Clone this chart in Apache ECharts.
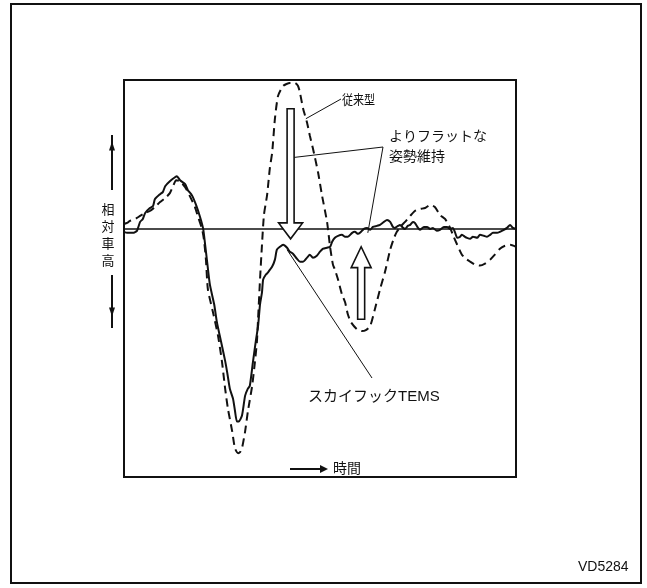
<!DOCTYPE html>
<html>
<head>
<meta charset="utf-8">
<script src="https://cdn.jsdelivr.net/npm/echarts@6/dist/echarts.min.js"></script>
<style>
html, body { margin: 0; padding: 0; background: #fff; }
#chart { width: 647px; height: 588px; }
</style>
</head>
<body>
<div id="chart"></div>
<script>
// Relative body height over time: conventional suspension (dashed)
const conventional = [
  [0,0.5],[0.8,0.6],[1.5,0.8],[2.3,0.9],[3.3,1.1],[4.1,1.3],[5.4,1.6],[6.6,1.8],[7.9,2.2],
  [9.2,2.7],[10.5,3.1],[11.7,3.6],[12.5,4.3],[13.3,4.9],[14.3,4.8],[15.6,4.2],[16.8,3.3],
  [18.1,2.2],[18.9,1.2],[19.9,0],[20.4,-1.1],[20.9,-3.1],[21.4,-6.1],[22.7,-8.4],[24.0,-10.8],
  [25.0,-13.4],[25.8,-16.1],[26.5,-18.1],[27.6,-20.4],[28.3,-22.1],[29.1,-22.6],[29.6,-22.5],
  [30.1,-22.1],[30.9,-20.4],[31.6,-18.4],[32.7,-15.8],[33.4,-13.4],[33.9,-11.4],[34.2,-9.1],
  [34.7,-5.1],[35.2,-1.6],[35.7,1.4],[36.5,3.4],[37.2,6.1],[37.8,7.7],[38.5,11.1],[39.3,13.4],
  [40.6,14.4],[42.3,14.7],[43.6,14.7],[44.4,14.4],[44.9,13.7],[45.7,12.1],[46.7,10.7],
  [47.4,9.4],[48.2,8.1],[49.5,5.7],[50.5,3.4],[51.8,0.7],[52.6,-1.9],[53.3,-3.6],[53.8,-4.1],
  [54.6,-5.1],[55.6,-6.6],[56.4,-7.4],[57.1,-8.6],[57.9,-9.4],[59.4,-10.1],[60.7,-10.3],
  [61.7,-10.2],[62.8,-9.8],[64.0,-8.1],[65.3,-6.1],[66.6,-4.3],[67.9,-2.1],[68.9,-0.9],
  [69.6,-0.3],[70.7,0.3],[71.7,0.7],[73.0,1.3],[74.2,1.8],[75.5,2.0],[76.8,2.1],[78.1,2.4],
  [79.3,2.2],[80.6,1.4],[81.9,1.0],[83.2,0.1],[83.9,-0.6],[85.0,-1.6],[86.2,-2.6],[87.2,-3.0],
  [88.3,-3.3],[89.5,-3.6],[90.8,-3.7],[92.1,-3.5],[93.4,-3.1],[94.6,-2.6],[95.9,-2.0],
  [97.2,-1.7],[98.5,-1.6],[100,-1.8]
];

// Relative body height over time: Skyhook TEMS (solid)
const skyhookTems = [
  [0,-0.3],[0.8,-0.4],[2.3,-0.4],[3.3,-0.2],[4.1,0.7],[4.8,1.0],[5.4,1.6],[6.6,2.1],[7.4,2.3],
  [7.9,3.0],[9.2,3.5],[9.9,3.7],[10.5,4.3],[11.7,4.8],[13.0,5.2],[13.5,5.3],[14.3,4.9],
  [15.6,4.5],[16.3,3.9],[17.3,3.4],[18.4,2.4],[19.4,1.2],[20.2,0],[20.7,-1.6],[21.2,-3.3],
  [21.9,-5.6],[23.0,-7.6],[23.7,-9.4],[24.5,-10.9],[25.0,-11.8],[25.8,-13.3],[26.3,-14.4],
  [27.0,-16.1],[27.8,-17.1],[28.3,-18.3],[28.8,-19.4],[29.3,-19.4],[30.1,-18.8],[30.9,-16.8],
  [31.6,-16.1],[32.1,-15.8],[32.9,-13.4],[33.7,-11.1],[34.2,-9.8],[34.7,-7.6],[35.2,-6.4],
  [35.5,-5.1],[36.2,-4.6],[36.7,-4.4],[37.8,-3.8],[38.5,-3.1],[39.0,-2.1],[39.8,-1.8],
  [40.6,-1.6],[41.6,-1.9],[42.3,-2.3],[43.1,-2.5],[44.1,-3.0],[44.9,-3.3],[45.7,-3.3],
  [46.7,-2.9],[47.4,-2.6],[48.2,-2.9],[49.2,-2.7],[50.0,-2.3],[50.8,-2.0],[51.8,-1.9],
  [52.6,-1.8],[53.1,-1.3],[53.8,-0.9],[54.6,-0.7],[55.6,-0.6],[56.4,-0.8],[57.1,-0.8],
  [58.2,-0.4],[58.9,-0.3],[59.7,-0.5],[60.2,-0.4],[61.2,0],[62.0,0.1],[62.8,-0.1],[63.5,0.2],
  [64.5,0.3],[65.3,0.4],[66.3,0.7],[67.1,0.9],[67.9,0.7],[68.6,0.2],[69.1,0.1],[69.9,0.3],
  [70.4,0.4],[71.2,0.1],[71.7,0],[72.4,0.3],[73.0,0.4],[73.7,0.7],[74.2,0.6],[75.0,0.1],
  [75.5,-0.1],[76.5,0.2],[77.3,0.2],[78.1,0],[78.8,0.1],[79.8,-0.2],[80.6,-0.1],[81.6,0.2],
  [82.4,0.2],[83.2,0],[83.9,0.1],[84.4,-0.3],[85.0,-0.9],[85.7,-0.8],[86.2,-0.6],[87.0,-0.8],
  [87.5,-0.9],[88.3,-1.0],[89.0,-0.8],[90.1,-0.9],[90.8,-0.6],[91.8,-0.7],[92.6,-0.8],
  [93.4,-0.6],[94.1,-0.4],[95.2,-0.4],[95.9,-0.3],[96.9,-0.1],[97.7,0.1],[98.5,0.4],
  [99.2,0.1],[100,0]
];

// Text labels
const labelConventional = '従来型';
const labelFlat = ['よりフラットな', '姿勢維持'];
const labelTems = 'スカイフックTEMS';
const labelTime = '時間';
const labelHeight = ['相', '対', '車', '高'];
const figureCode = 'VD5284';

// Annotation anchors in data units
const downArrow = { x: 42.5, top: 12.1, headBase: 0.6, tip: -1.0 };
const upArrow = { x: 60.5, tip: -1.8, headBase: -3.9, bottom: -9.1 };
const conventionalAnchor = [46.4, 11.1];
const flatAnchors = [[43.4, 7.2], [62.2, -0.4]];
const temsAnchor = [41.6, -2.1];

const INK = '#111';
const FONT = '"Liberation Sans", "Noto Sans CJK JP", sans-serif';

const chart = echarts.init(document.getElementById('chart'), null, { renderer: 'canvas' });

chart.setOption({
  animation: false,
  backgroundColor: '#fff',
  grid: {
    left: 124, top: 80, width: 392, height: 397,
    show: true, borderColor: INK, borderWidth: 2, backgroundColor: 'transparent'
  },
  xAxis: {
    type: 'value', min: 0, max: 100,
    axisLine: { show: true, onZero: true, lineStyle: { color: INK, width: 1.5 } },
    axisTick: { show: false }, axisLabel: { show: false }, splitLine: { show: false }
  },
  yAxis: {
    type: 'value', min: -25, max: 15,
    axisLine: { show: false }, axisTick: { show: false },
    axisLabel: { show: false }, splitLine: { show: false }
  },
  series: [
    {
      name: labelConventional, type: 'line', data: conventional,
      showSymbol: false, smooth: 0.2,
      lineStyle: { color: INK, width: 2, type: [8, 5] }, z: 3
    },
    {
      name: labelTems, type: 'line', data: skyhookTems,
      showSymbol: false, smooth: 0.2,
      lineStyle: { color: INK, width: 2 }, z: 4
    }
  ]
});

function px(p) { return chart.convertToPixel({ gridIndex: 0 }, p); }

// Hollow block arrow along a vertical line at data x
function hollowArrow(x, shaftEnd, headBase, tip, shaftW, headW) {
  const c = px([x, 0])[0];
  const s = px([x, shaftEnd])[1];
  const b = px([x, headBase])[1];
  const t = px([x, tip])[1];
  return {
    type: 'polygon', z: 10,
    shape: { points: [
      [c - shaftW / 2, s], [c + shaftW / 2, s], [c + shaftW / 2, b],
      [c + headW / 2, b], [c, t], [c - headW / 2, b], [c - shaftW / 2, b]
    ] },
    style: { fill: '#fff', stroke: INK, lineWidth: 1.6 }
  };
}

function line(p1, p2, w) {
  return { type: 'line', z: 9, shape: { x1: p1[0], y1: p1[1], x2: p2[0], y2: p2[1] },
    style: { stroke: INK, lineWidth: w || 1 } };
}

function text(x, y, str, size, extra) {
  return Object.assign({ type: 'text', x: x, y: y, z: 11,
    style: { text: str, font: size + 'px ' + FONT, fill: INK, align: 'left', verticalAlign: 'middle' } },
    extra || {});
}

// Small filled arrowhead: dir is 'up', 'down' or 'right'
function head(cx, cy, w, h, dir) {
  let pts;
  if (dir === 'right') pts = [[cx - h / 2, cy - w / 2], [cx - h / 2, cy + w / 2], [cx + h / 2, cy]];
  else if (dir === 'up') pts = [[cx - w / 2, cy + h / 2], [cx + w / 2, cy + h / 2], [cx, cy - h / 2]];
  else pts = [[cx - w / 2, cy - h / 2], [cx + w / 2, cy - h / 2], [cx, cy + h / 2]];
  return { type: 'polygon', z: 10, shape: { points: pts }, style: { fill: INK } };
}

const flatVertex = [383, 147];
const graphics = [
  // outer frame
  { type: 'rect', z: 1, shape: { x: 11, y: 4, width: 630, height: 579 },
    style: { fill: 'none', stroke: INK, lineWidth: 2 } },
  hollowArrow(downArrow.x, downArrow.top, downArrow.headBase, downArrow.tip, 7, 24),
  hollowArrow(upArrow.x, upArrow.bottom, upArrow.headBase, upArrow.tip, 7, 20),
  line(px(conventionalAnchor), [341, 99]),
  line(px(flatAnchors[0]), flatVertex),
  line(flatVertex, px(flatAnchors[1])),
  line(px(temsAnchor), [372, 378]),
  text(342, 100, labelConventional, 13, { scaleX: 0.85 }),
  text(389, 137, labelFlat[0], 14),
  text(389, 157, labelFlat[1], 14),
  text(308, 397, labelTems, 15),
  // time arrow
  line([290, 469], [322, 469], 2),
  head(324, 469, 8, 8, 'right'),
  text(333, 469, labelTime, 14),
  // vertical caption with up/down arrows
  line([112, 135], [112, 190], 2),
  head(112, 146, 6, 9, 'up'),
  line([112, 275], [112, 328], 2),
  head(112, 312, 6, 9, 'down'),
  { type: 'text', x: 108, y: 236, z: 11,
    style: { text: labelHeight.join('\n'), font: '13px ' + FONT, fill: INK,
      align: 'center', verticalAlign: 'middle', lineHeight: 17 } },
  text(578, 567, figureCode, 14)
];

chart.setOption({ graphic: graphics });
</script>
</body>
</html>
